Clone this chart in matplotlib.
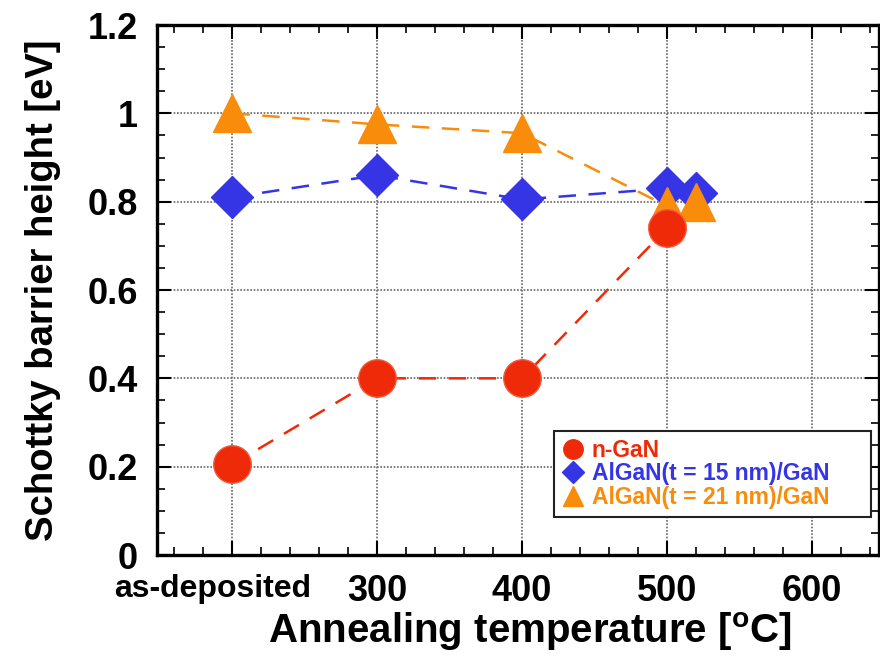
import matplotlib
matplotlib.use("Agg")
import matplotlib.pyplot as plt
import matplotlib.transforms as mtransforms
from matplotlib.ticker import MultipleLocator

# data
temps = [200, 300, 400, 500]
x_tick_pos = [200, 300, 400, 500, 600]
x_tick_labels = ["as-deposited", "300", "400", "500", "600"]
y_tick_pos = [0, 0.2, 0.4, 0.6, 0.8, 1.0, 1.2]
y_tick_labels = ["0", "0.2", "0.4", "0.6", "0.8", "1", "1.2"]

n_gan = [0.205, 0.40, 0.40, 0.74]
algan15 = [0.81, 0.86, 0.805, 0.83]
algan21 = [1.0, 0.975, 0.955, 0.79]
extra_temp = [520]
algan15_extra = [0.82]
algan21_extra = [0.80]

RED = "#EE2A08"
BLUE = "#3535E6"
ORANGE = "#FA8C0C"

plt.rcParams["font.family"] = ["Liberation Sans", "DejaVu Sans"]
plt.rcParams["font.weight"] = "bold"

fig = plt.figure(figsize=(8.8, 6.62), dpi=100)
ax = fig.add_axes([0.1784, 0.1616, 0.82, 0.8006])

dash = (0, (7, 5))
ax.plot(temps, n_gan, color=RED, ls=dash, lw=1.8, zorder=2)
ax.plot(temps, algan15, color=BLUE, ls=dash, lw=1.8, zorder=2)
ax.plot(temps, algan21, color=ORANGE, ls=dash, lw=1.8, zorder=2)

ax.plot(temps + extra_temp, algan15 + algan15_extra, ls="none", marker="D",
        ms=21, color=BLUE, mec=BLUE, zorder=3)
ax.plot(temps + extra_temp, algan21 + algan21_extra, ls="none", marker="^",
        ms=27, color=ORANGE, mec=ORANGE, zorder=4)
ax.plot(temps, n_gan, ls="none", marker="o", ms=27, color=RED, mec="#F25A3A",
        mew=1, zorder=5)

# legend proxies
h1, = ax.plot([], [], ls="none", marker="o", ms=14, color=RED)
h2, = ax.plot([], [], ls="none", marker="D", ms=11, color=BLUE)
h3, = ax.plot([], [], ls="none", marker="^", ms=14, color=ORANGE)
leg = ax.legend([h1, h2, h3],
                ["n-GaN", "AlGaN(t = 15 nm)/GaN", "AlGaN(t = 21 nm)/GaN"],
                loc="lower left", bbox_to_anchor=(0.55, 0.072, 0.44, 0.16),
                mode="expand",
                prop={"size": 16.5, "weight": "bold"}, labelspacing=0.02,
                handletextpad=0.3, handlelength=1.0, borderpad=0.35,
                borderaxespad=0, fancybox=False, framealpha=1,
                edgecolor="#222222", labelcolor=[RED, BLUE, ORANGE])
leg.get_frame().set_linewidth(1.5)

ax.set_xlim(148, 646)
ax.set_ylim(0, 1.2)
ax.set_xticks(x_tick_pos)
ax.set_xticklabels(x_tick_labels)
ax.set_yticks(y_tick_pos)
ax.set_yticklabels(y_tick_labels)
ax.xaxis.set_minor_locator(MultipleLocator(20))
ax.yaxis.set_minor_locator(MultipleLocator(0.05))

ax.tick_params(which="both", direction="in", top=True, right=True)
ax.tick_params(which="major", length=10, width=1.5, labelsize=26, pad=14)
ax.tick_params(which="minor", length=6, width=1.2)
ax.tick_params(axis="y", which="major", pad=14)
first = ax.get_xticklabels()[0]
first.set_fontsize(23)
first.set_transform(first.get_transform() +
                    mtransforms.ScaledTranslation(-0.2, 0, fig.dpi_scale_trans))

ax.grid(True, which="major", color="#666666", ls=(0, (1, 1)), lw=1.2)
ax.set_axisbelow(True)
for s in ax.spines.values():
    s.set_linewidth(2.4)

ax.set_xlabel("Annealing temperature [$\\mathregular{^{o}}$C]", fontsize=29,
              fontweight="bold")
ax.xaxis.set_label_coords(0.517, -0.105)
ax.set_ylabel("Schottky barrier height [eV]", fontsize=27.5,
              fontweight="bold", labelpad=19)

fig.savefig("out.png", dpi=100)
